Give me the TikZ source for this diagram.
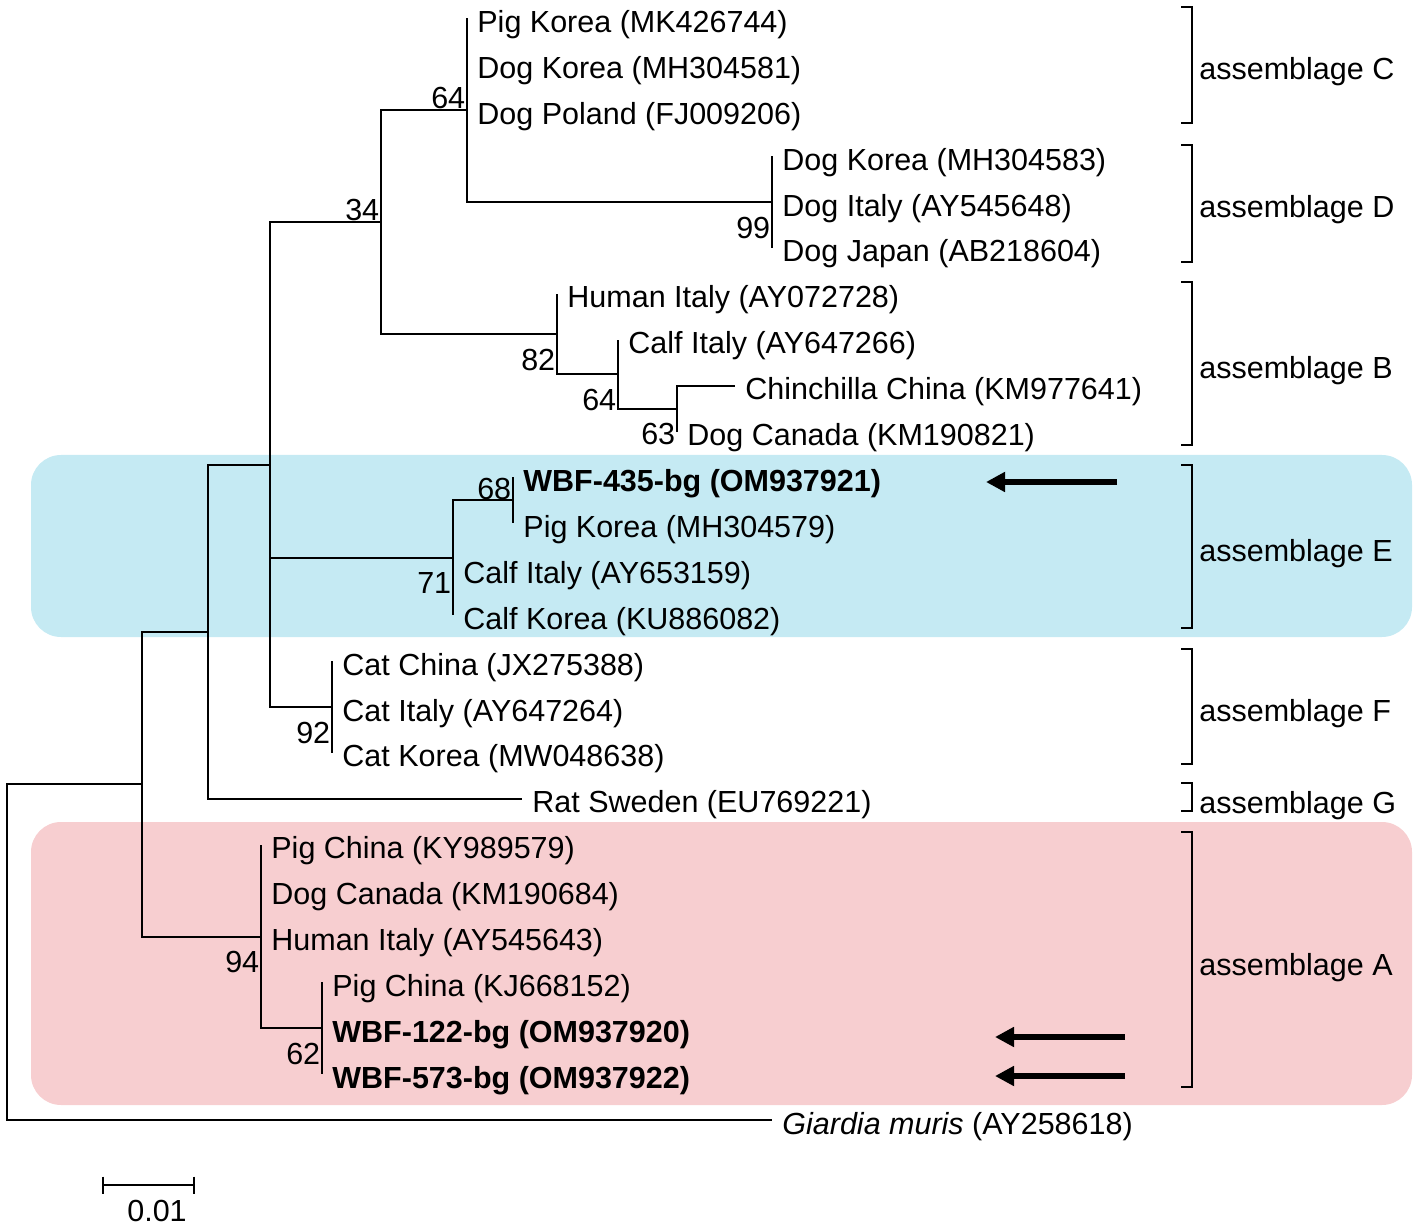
\documentclass[tikz,border=0pt]{standalone}
\usepackage{fontspec}
\setmainfont{Liberation Sans}
\usetikzlibrary{arrows.meta}
\definecolor{cladeE}{RGB}{197,234,243}
\definecolor{cladeA}{RGB}{247,206,208}

\begin{document}
\begin{tikzpicture}[x=0.5pt,y=-0.5pt,
  font=\fontsize{15.25}{18}\selectfont,
  branch/.style={line width=1pt},
  leaf/.style={anchor=base west,inner sep=0pt,xshift=5pt,yshift=-7pt},
  bsa/.style={anchor=base east,inner sep=0pt,xshift=-0.7pt,yshift=0.7pt},
  bsb/.style={anchor=base east,inner sep=0pt,xshift=-0.7pt,yshift=-18pt},
  bracket/.style={line width=1pt},
  grp/.style={anchor=base west,inner sep=0pt},
  pointer/.style={line width=3.3pt,-{Triangle[length=9.5pt,width=9.5pt]}},
  hilite/.style={rounded corners=15pt}]
\useasboundingbox (0,0) rectangle (1418,1229);

% shaded assemblages
\fill[cladeE,hilite] (31,455) rectangle (1412,637);
\fill[cladeA,hilite] (31,822) rectangle (1412,1105);

% inner nodes
\coordinate (root) at (7,952.1);
\coordinate (n142) at (142,784.1);
\coordinate (n208) at (208,631.7);
\coordinate (n270) at (270,464.6);
\coordinate (n34) at (381,222.2);
\coordinate (n64c) at (467,110.3);
\coordinate (n99) at (772,202.1);
\coordinate (n82) at (557,334.05);
\coordinate (n64b) at (618,374.2);
\coordinate (n63) at (677,408.65);
\coordinate (n71) at (453,557.8);
\coordinate (n68) at (513,500.45);
\coordinate (n92) at (332,707);
\coordinate (n94) at (261,936.5);
\coordinate (n62) at (322,1028.3);

% tips
\foreach \k/\x/\t in {
  0/467/Pig Korea (MK426744),
  1/467/Dog Korea (MH304581),
  2/467/Dog Poland (FJ009206),
  3/772/Dog Korea (MH304583),
  4/772/Dog Italy (AY545648),
  5/772/Dog Japan (AB218604),
  6/557/Human Italy (AY072728),
  7/618/Calf Italy (AY647266),
  8/735/Chinchilla China (KM977641),
  9/677/Dog Canada (KM190821),
  10/513/\textbf{WBF-435-bg (OM937921)},
  11/513/Pig Korea (MH304579),
  12/453/Calf Italy (AY653159),
  13/453/Calf Korea (KU886082),
  14/332/Cat China (JX275388),
  15/332/Cat Italy (AY647264),
  16/332/Cat Korea (MW048638),
  17/522/Rat Sweden (EU769221),
  18/261/Pig China (KY989579),
  19/261/Dog Canada (KM190684),
  20/261/Human Italy (AY545643),
  21/322/Pig China (KJ668152),
  22/322/\textbf{WBF-122-bg (OM937920)},
  23/322/\textbf{WBF-573-bg (OM937922)},
  24/772/{\itshape Giardia muris} (AY258618)}
{
  \coordinate (t\k) at (\x,{18.5+45.9*\k});
  \node[leaf] (l\k) at (t\k) {\t};
}

% branches
\foreach \p/\c in {root/n142, root/t24, n142/n208, n142/n94,
  n208/n270, n208/t17, n270/n34, n270/n71, n270/n92,
  n34/n64c, n34/n82, n64c/t0, n64c/t1, n64c/t2, n64c/n99,
  n99/t3, n99/t4, n99/t5, n82/t6, n82/n64b, n64b/t7, n64b/n63,
  n63/t8, n63/t9, n71/n68, n71/t12, n71/t13, n68/t10, n68/t11,
  n92/t14, n92/t15, n92/t16, n94/t18, n94/t19, n94/t20, n94/n62,
  n62/t21, n62/t22, n62/t23}
  \draw[branch] (\p) |- (\c);

% bootstrap values
\node[bsa] (b64c) at (n64c) {64};
\node[bsa] (b34) at (n34) {34};
\node[bsb] (b99) at (n99) {99};
\node[bsb] (b82) at (n82) {82};
\node[bsb] (b64b) at (n64b) {64};
\node[bsb] (b63) at (n63) {63};
\node[bsa] (b68) at (n68) {68};
\node[bsb] (b71) at (n71) {71};
\node[bsb] (b92) at (n92) {92};
\node[bsb] (b94) at (n94) {94};
\node[bsb] (b62) at (n62) {62};

% assemblage brackets
\foreach \g/\a/\b/\y in {C/7/123/80, D/145/262/217.5, B/282/445/379,
  E/465/628/561.5, F/649/764/721, G/783/811/813, A/832/1087/975}
{
  \draw[bracket] (1181,\a) -| (1192,\b) -- (1181,\b);
  \node[grp] (g\g) at (1199,\y) {assemblage \g};
}

% new isolates
\coordinate (pE) at (1117,482);
\coordinate (qE) at (986,482);
\coordinate (pA1) at (1125,1037);
\coordinate (qA1) at (995,1037);
\coordinate (pA2) at (1125,1076);
\coordinate (qA2) at (995,1076);
\draw[pointer] (pE) -- (qE);
\draw[pointer] (pA1) -- (qA1);
\draw[pointer] (pA2) -- (qA2);

% scale bar
\coordinate (s0) at (103,1185);
\coordinate (s1) at (194,1185);
\draw[branch] (s0) -- (s1);
\draw[branch] ([yshift=4.25pt]s0) -- ([yshift=-4.25pt]s0);
\draw[branch] ([yshift=4.25pt]s1) -- ([yshift=-4.25pt]s1);
\node[anchor=base,inner sep=0pt] (sl) at (157,1221.7) {0.01};
\end{tikzpicture}
\end{document}
